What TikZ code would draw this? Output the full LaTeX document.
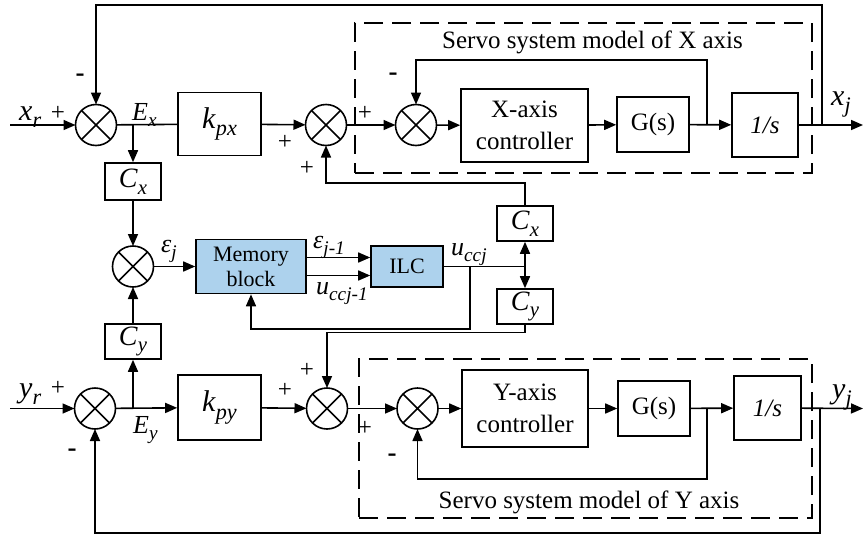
\documentclass[tikz,border=0pt]{standalone}
\usepackage{fontspec}
\usepackage{graphicx}
\setmainfont{Liberation Serif}
\usetikzlibrary{arrows.meta,calc}
\definecolor{memblue}{RGB}{173,210,237}
\newcommand\islab[2]{\textit{#1}\raisebox{-0.24em}{\scalebox{0.74}{\textit{#2}}}}
\tikzset{
  ln/.style={line width=1.6pt},
  arr/.style={line width=1.6pt,-{Triangle[length=12pt,width=10pt]}},
  blk/.style={draw,line width=1.6pt,inner sep=0pt,align=center,font=\rmfamily\fontsize{25}{32}\selectfont},
  bblk/.style={blk,fill=memblue,font=\rmfamily\fontsize{22}{25}\selectfont},
  sumj/.style={draw,circle,line width=1.6pt,minimum size=41pt,inner sep=0pt,outer sep=0pt},
  dbox/.style={draw,line width=1.6pt,dash pattern=on 19pt off 9pt,inner sep=0pt},
  sig/.style={font=\fontsize{25}{25}\selectfont,inner sep=0pt},
  msig/.style={font=\bfseries\fontsize{27}{27}\selectfont,inner sep=0pt},
  lab/.style={anchor=base west,inner sep=0pt,font=\fontsize{30}{30}\selectfont},
  slab/.style={anchor=base west,inner sep=0pt,font=\fontsize{26}{26}\selectfont},
  ttl/.style={anchor=base,inner sep=0pt,font=\fontsize{25}{25}\selectfont}
}
\begin{document}
\begin{tikzpicture}[x=1pt,y=-1pt]
\useasboundingbox (0,0) rectangle (864,536);

% dashed frames
\node[dbox,minimum width=457pt,minimum height=150pt] (frx) at (583.5,98) {};
\node[dbox,minimum width=453pt,minimum height=159pt] (fry) at (585.5,438.5) {};
\node[ttl] (tx) at (592.5,48) {Servo system model of X axis};
\node[ttl] (ty) at (589,508) {Servo system model of Y axis};

% top row
\node[sumj] (s1) at (96,125) {};
\node[blk,minimum width=83pt,minimum height=63pt] (kpx) at (219.5,124) {\fontsize{30}{30}\selectfont\islab{k}{px}};
\node[sumj] (s2) at (326,125) {};
\node[sumj] (s3) at (416,125) {};
\node[blk,minimum width=127pt,minimum height=73pt] (xc) at (524.5,125.5) {X-axis\\controller};
\node[blk,minimum width=72pt,minimum height=55pt] (gx) at (653,124.5) {G(s)};
\node[blk,minimum width=66pt,minimum height=64pt] (ix) at (765,125) {\textit{1/s}};

% middle
\node[blk,minimum width=56pt,minimum height=37pt] (cx1) at (133,181.5) {\fontsize{28}{28}\selectfont\islab{C}{x}};
\node[sumj] (s4) at (133,266.5) {};
\node[bblk,minimum width=110pt,minimum height=54pt] (mem) at (251,266.5) {Memory\\block};
\node[bblk,minimum width=72pt,minimum height=41pt] (ilc) at (407,266.5) {ILC};
\node[blk,minimum width=56pt,minimum height=35pt] (cx2) at (525,223.5) {\fontsize{28}{28}\selectfont\islab{C}{x}};
\node[blk,minimum width=56pt,minimum height=35pt] (cy2) at (525,306.5) {\fontsize{28}{28}\selectfont\islab{C}{y}};
\node[blk,minimum width=56pt,minimum height=35pt] (cy1) at (133,341.5) {\fontsize{28}{28}\selectfont\islab{C}{y}};

% bottom row
\node[sumj] (s6) at (95,408.5) {};
\node[blk,minimum width=83pt,minimum height=65pt] (kpy) at (219.5,407.5) {\fontsize{30}{30}\selectfont\islab{k}{py}};
\node[sumj] (s5) at (327,408.5) {};
\node[sumj] (s7) at (417.5,408.5) {};
\node[blk,minimum width=126pt,minimum height=77pt] (yc) at (525,408.5) {Y-axis\\controller};
\node[blk,minimum width=72pt,minimum height=55pt] (gy) at (654,408.5) {G(s)};
\node[blk,minimum width=67pt,minimum height=64pt] (iy) at (767.5,408) {\textit{1/s}};

% crosses in summing junctions
\foreach \n in {s1,s2,s3,s4,s5,s6,s7}
  \draw[ln] (\n.north west) -- (\n.south east) (\n.north east) -- (\n.south west);

% coordinates
\coordinate (xin) at (10,125);
\coordinate (yin) at (10,408.5);
\coordinate (xout) at (863,125);
\coordinate (yout) at (863,408.5);
\coordinate (bx) at (133,125);
\coordinate (by) at (133,408.5);
\coordinate (gxb) at (707,125);
\coordinate (gyb) at (707,408.5);
\coordinate (oxb) at (822,125);
\coordinate (oyb) at (820,408.5);
\coordinate (jn) at (525,266.5);
\coordinate (ib) at (470,266.5);

% top connectors
\draw[arr] (xin) -- (s1);
\draw[ln] (s1) -- (kpx);
\draw[arr] (bx) -- (cx1);
\draw[arr] (kpx) -- (s2);
\draw[arr] (s2) -- (s3);
\draw[arr] (s3) -- (xc);
\draw[arr] (xc) -- (gx);
\draw[arr] (gx) -- (ix);
\draw[arr] (ix) -- (xout);
\draw[arr] (gxb) -- ++(0,-65) -| (s3);
\draw[arr] (oxb) -- ++(0,-120) -| (s1);
\draw[arr] (cx2) -- ++(0,-40.5) -| (s2);

% middle connectors
\draw[arr] (cx1) -- (s4);
\draw[arr] (cy1) -- (s4);
\draw[arr] (s4) -- (mem);
\draw[arr] ($(mem.east)+(0,-9)$) -- ($(ilc.west)+(0,-9)$);
\draw[arr] ($(mem.east)+(0,9)$) -- ($(ilc.west)+(0,9)$);
\draw[ln] (ilc) -- (jn);
\draw[arr] (jn) -- (cx2);
\draw[arr] (jn) -- (cy2);
\draw[arr] (ib) -- ++(0,62.5) -| (mem);
\draw[arr] (cy2) -- ++(0,26) -| (s5);

% bottom connectors
\draw[arr] (yin) -- (s6);
\draw[arr] (s6) -- (kpy);
\draw[arr] (by) -- (cy1);
\draw[arr] (kpy) -- (s5);
\draw[arr] (s5) -- (s7);
\draw[arr] (s7) -- (yc);
\draw[arr] (yc) -- (gy);
\draw[arr] (gy) -- (iy);
\draw[arr] (iy) -- (yout);
\draw[arr] (gyb) -- ++(0,70.5) -| (s7);
\draw[arr] (oyb) -- ++(0,124.5) -| (s6);

% signal labels
\node[lab] (lxr) at (19,120) {\islab{x}{r}};
\node[lab] (lyr) at (19,397) {\islab{y}{r}};
\node[lab] (lxj) at (831,105) {\islab{x}{j}};
\node[lab] (lyj) at (832,398) {\islab{y}{j}};
\node[slab] (lex) at (132,120) {\islab{E}{x}};
\node[slab] (ley) at (133,433) {\islab{E}{y}};
\node[slab] (lej) at (161,252) {\islab{ε}{j}};
\node[slab] (lej1) at (313,248) {\islab{ε}{j-1}};
\node[slab] (luc1) at (316,294) {\islab{u}{ccj-1}};
\node[slab] (luc) at (451,255) {\islab{u}{ccj}};

% signs
\node[sig] (p1) at (58,113) {+};
\node[msig] (m1) at (80,78) {-};
\node[sig] (p2) at (285,142) {+};
\node[sig] (p3) at (307,168) {+};
\node[sig] (p4) at (365,113) {+};
\node[msig] (m2) at (393,77) {-};
\node[sig] (p5) at (58,388) {+};
\node[msig] (m3) at (72,453) {-};
\node[sig] (p6) at (285,390) {+};
\node[sig] (p7) at (307,370) {+};
\node[sig] (p8) at (365,428) {+};
\node[msig] (m4) at (392,458) {-};
\end{tikzpicture}
\end{document}
